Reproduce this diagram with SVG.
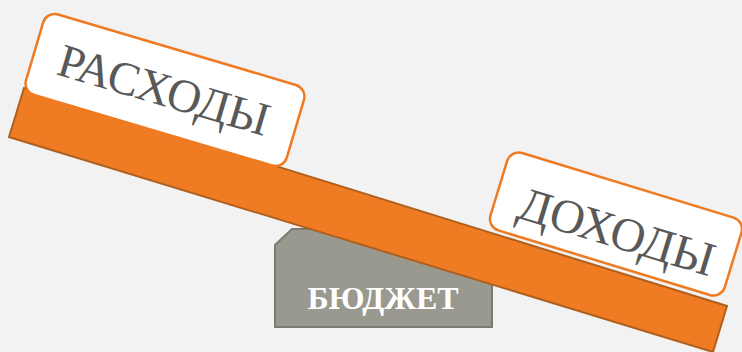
<svg xmlns="http://www.w3.org/2000/svg" width="742" height="352" viewBox="0 0 742 352">
  <style>
    .card { fill: #ffffff; stroke: #ee7a22; stroke-width: 2.5; }
    .cardText { font-family: "Liberation Serif", "Times New Roman", serif; fill: #595959; text-anchor: middle; }
    .baseText { font-family: "Liberation Serif", "Times New Roman", serif; font-weight: bold; fill: #ffffff; text-anchor: middle; }
  </style>
  <rect x="0" y="0" width="742" height="352" fill="#f2f2f2"/>
  <g id="budget">
    <polygon points="292,229 460,229 492,260 492,327 275,327 275,245" fill="#99998f" stroke="#7b7b74" stroke-width="2"/>
    <text class="baseText" x="383" y="309" font-size="32">БЮДЖЕТ</text>
  </g>
  <g id="beam">
    <polygon points="24,88 727,306 713,352 9,137" fill="#ef7b22" stroke="#b0601e" stroke-width="2" stroke-linejoin="miter"/>
  </g>
  <g id="connectors"></g>
  <g id="expenses" transform="translate(165,90) rotate(16.5)">
    <rect class="card" x="-136" y="-42" width="272" height="84" rx="12"/>
    <text class="cardText" x="-1" y="16" font-size="47">РАСХОДЫ</text>
  </g>
  <g id="income" transform="translate(616,224) rotate(17)">
    <rect class="card" x="-122.5" y="-40.5" width="245" height="81" rx="12"/>
    <text class="cardText" x="3" y="23" font-size="48">ДОХОДЫ</text>
  </g>
</svg>
